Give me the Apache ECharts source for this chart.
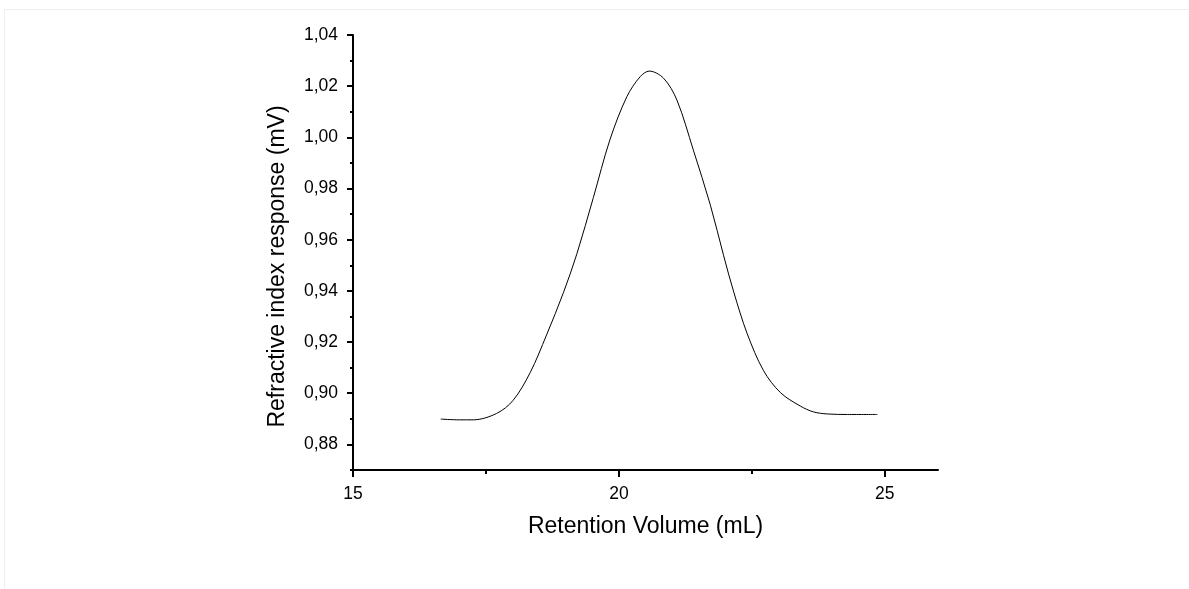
<!DOCTYPE html>
<html>
<head>
<meta charset="utf-8">
<script src="https://cdn.jsdelivr.net/npm/echarts@6/dist/echarts.min.js"></script>
<style>
html,body{margin:0;padding:0;background:#fff;}
#frame{position:absolute;left:4px;top:9px;width:1185px;height:580px;border-top:1px solid #efefef;border-left:1px solid #efefef;box-sizing:border-box;}
#chart{position:absolute;left:0;top:0;width:1189px;height:589px;}
</style>
</head>
<body>
<div id="frame"></div>
<div id="chart"></div>
<script>
// Retention volume (mL)
const volumes = [16.65, 17.0, 17.26, 17.7, 18.01, 18.33, 18.64, 18.96, 19.21, 19.52, 19.83, 20.15, 20.40, 20.57, 20.84, 21.09, 21.40, 21.72, 21.97, 22.16, 22.41, 22.72, 23.04, 23.41, 23.66, 23.92, 24.3, 24.86];
// Refractive index response (mV)
const responses = [0.8899, 0.8896, 0.8896, 0.8921, 0.8972, 0.9080, 0.9228, 0.9395, 0.9545, 0.9765, 0.9990, 1.0159, 1.0237, 1.0259, 1.0231, 1.0146, 0.9950, 0.9735, 0.9537, 0.9395, 0.9234, 0.9088, 0.9002, 0.8950, 0.8927, 0.8919, 0.8917, 0.8917];

const xMajorTicks = [15, 20, 25];
const xMinorTicks = [17.5, 22.5];
const yMajorTicks = [0.88, 0.90, 0.92, 0.94, 0.96, 0.98, 1.00, 1.02, 1.04];
const yMinorTicks = [0.87, 0.89, 0.91, 0.93, 0.95, 0.97, 0.99, 1.01, 1.03];

const xName = 'Retention Volume (mL)';
const yName = 'Refractive index response (mV)';

const chart = echarts.init(document.getElementById('chart'), null, {renderer: 'canvas'});
const font = 'Liberation Sans, Arial, sans-serif';
const pts = volumes.map((v, i) => [v, responses[i]]);

chart.setOption({
  animation: false,
  backgroundColor: 'transparent',
  grid: {left: 353, right: 251, top: 35, bottom: 119, containLabel: false, outerBoundsMode: 'none'},
  xAxis: [{
    type: 'value', min: 15, max: 26,
    name: xName, nameLocation: 'middle', nameGap: 45,
    nameTextStyle: {fontFamily: font, fontSize: 23, color: '#000'},
    axisLine: {show: true, onZero: false, lineStyle: {color: '#000', width: 2}},
    axisTick: {show: true, inside: false, length: 7, customValues: xMajorTicks, lineStyle: {color: '#000', width: 2}},
    axisLabel: {show: true, margin: 15, customValues: xMajorTicks, fontFamily: font, fontSize: 17.5, color: '#000'},
    splitLine: {show: false}
  }, {
    type: 'value', min: 15, max: 26, position: 'bottom',
    axisLine: {show: false},
    axisTick: {show: true, inside: false, length: 4, customValues: xMinorTicks, lineStyle: {color: '#000', width: 2}},
    axisLabel: {show: false},
    splitLine: {show: false}
  }],
  yAxis: [{
    type: 'value', min: 0.87, max: 1.04,
    name: yName, nameLocation: 'middle', nameGap: 64, nameRotate: 90,
    nameTextStyle: {fontFamily: font, fontSize: 23, color: '#000', padding: [0, 28, 0, 0]},
    axisLine: {show: true, onZero: false, lineStyle: {color: '#000', width: 2}},
    axisTick: {show: true, inside: false, length: 6, customValues: yMajorTicks, lineStyle: {color: '#000', width: 2}},
    axisLabel: {show: true, margin: 15, customValues: yMajorTicks, fontFamily: font, fontSize: 17.5, color: '#000',
      formatter: v => v.toFixed(2).replace('.', ',')},
    splitLine: {show: false}
  }, {
    type: 'value', min: 0.87, max: 1.04, position: 'left',
    axisLine: {show: false},
    axisTick: {show: true, inside: false, length: 3, customValues: yMinorTicks, lineStyle: {color: '#000', width: 2}},
    axisLabel: {show: false},
    splitLine: {show: false}
  }],
  series: [{
    type: 'line',
    xAxisIndex: 0, yAxisIndex: 0,
    data: pts,
    smooth: 0.33,
    showSymbol: false,
    symbol: 'none',
    lineStyle: {color: '#000', width: 1}
  }]
});
</script>
</body>
</html>
